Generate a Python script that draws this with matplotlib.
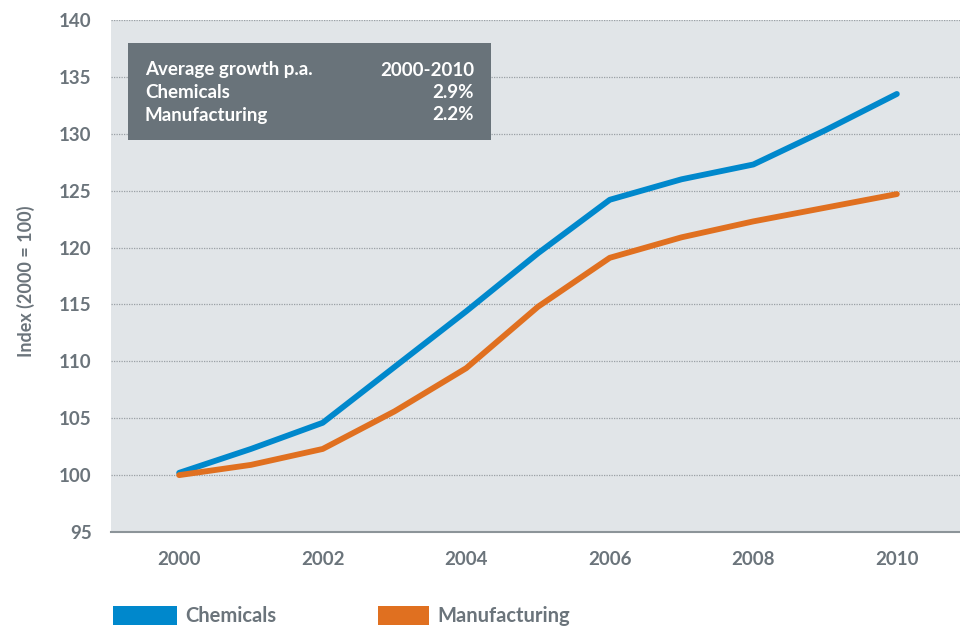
# Chemicals vs manufacturing production index, 2000-2010
import matplotlib.pyplot as plt
from matplotlib.patches import Rectangle

plt.rcParams['font.family'] = ['Lato', 'DejaVu Sans']

years = [2000, 2001, 2002, 2003, 2004, 2005, 2006, 2007, 2008, 2009, 2010]
chemicals = [100.2, 102.3, 104.6, 109.5, 114.4, 119.5, 124.2, 126.0, 127.3, 130.3, 133.5]
manufacturing = [100.0, 100.9, 102.3, 105.6, 109.4, 114.8, 119.1, 120.9, 122.3, 123.5, 124.7]

box_rows = [('Average growth p.a.', '2000-2010'),
            ('Chemicals', '2.9%'),
            ('Manufacturing', '2.2%')]

blue = '#0088cc'
orange = '#e07020'
grey = '#6b747b'

fig = plt.figure(figsize=(9.6, 6.27), dpi=100)
ax = fig.add_axes([0.1156, 0.1515, 0.8844, 0.8166])
ax.set_facecolor('#e1e5e8')

ax.plot(years, chemicals, color=blue, lw=4.2, solid_capstyle='round', solid_joinstyle='round', zorder=3)
ax.plot(years, manufacturing, color=orange, lw=4.2, solid_capstyle='round', solid_joinstyle='round', zorder=3)

ax.set_xlim(1999.05, 2010.88)
ax.set_ylim(95, 140)
ax.set_xticks(range(2000, 2011, 2))
ax.set_yticks(range(95, 141, 5))
ax.yaxis.grid(True, color='#9aa0a5', linestyle=(0, (1, 1)), lw=0.9)
ax.set_axisbelow(True)

for s in ['top', 'right', 'left']:
    ax.spines[s].set_visible(False)
ax.spines['bottom'].set_color('#8c9499')
ax.spines['bottom'].set_linewidth(1.5)
ax.tick_params(length=0, colors=grey, labelsize=13.5)
ax.tick_params(axis='x', pad=14)
ax.tick_params(axis='y', pad=14)
for lab in ax.get_xticklabels() + ax.get_yticklabels():
    lab.set_fontweight('bold')

fig.text(0.027, 0.5515, 'Index (2000 = 100)', rotation=90, color=grey,
         fontsize=13, fontweight='bold', ha='center', va='center')

# summary box
fig.patches.append(Rectangle((128 / 960, 1 - 140 / 627), 363 / 960, 97 / 627,
                             transform=fig.transFigure, facecolor='#69737a', edgecolor='none', zorder=5))
for i, (left, right) in enumerate(box_rows):
    yy = 1 - (70 + i * 22.5) / 627
    fig.text(145 / 960, yy, left, color='white', fontsize=13.5, fontweight='bold', va='center', zorder=6)
    fig.text(474 / 960, yy, right, color='white', fontsize=13.5, fontweight='bold', va='center', ha='right', zorder=6)

# legend
fig.patches.append(Rectangle((113 / 960, 1 - 625 / 627), 64 / 960, 19 / 627,
                             transform=fig.transFigure, facecolor=blue, edgecolor='none'))
fig.text(185 / 960, 1 - 616 / 627, 'Chemicals', color=grey, fontsize=14.5, fontweight='bold', va='center')
fig.patches.append(Rectangle((378 / 960, 1 - 625 / 627), 51 / 960, 19 / 627,
                             transform=fig.transFigure, facecolor=orange, edgecolor='none'))
fig.text(437 / 960, 1 - 616 / 627, 'Manufacturing', color=grey, fontsize=14.5, fontweight='bold', va='center')

plt.savefig('out.png', dpi=100)
